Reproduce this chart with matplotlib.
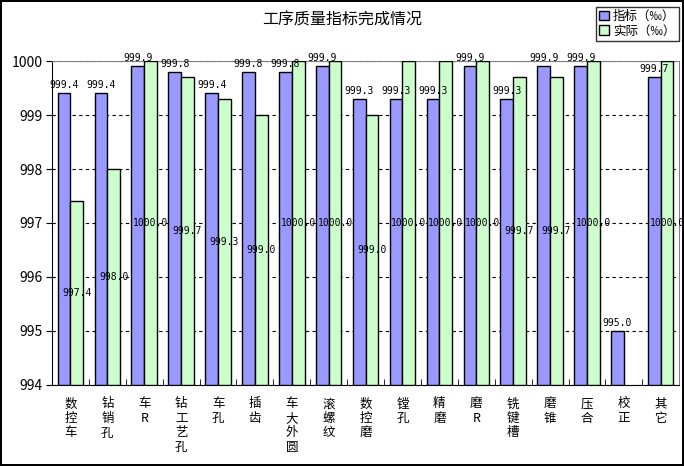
import numpy as np
import matplotlib
matplotlib.use('Agg')
from matplotlib import pyplot as plt
from matplotlib.patches import Patch

plt.rcParams['font.family'] = ['Noto Sans CJK SC', 'DejaVu Sans']

CATEGORIES = ['数控车', '钻销孔', '车R', '钻工艺孔', '车孔', '插齿', '车大外圆', '滚螺纹',
              '数控磨', '镗孔', '精磨', '磨R', '铣键槽', '磨锥', '压合', '校正', '其它']
TARGET = [999.4, 999.4, 999.9, 999.8, 999.4, 999.8, 999.8, 999.9,
          999.3, 999.3, 999.3, 999.9, 999.3, 999.9, 999.9, 995.0, 999.7]
ACTUAL = [997.4, 998.0, 1000.0, 999.7, 999.3, 999.0, 1000.0, 1000.0,
          999.0, 1000.0, 1000.0, 1000.0, 999.7, 999.7, 1000.0, np.nan, 1000.0]
Y_MIN, Y_MAX = 994, 1000

BLUE = '#9999ff'
GREEN = '#ccffcc'

fig = plt.figure(figsize=(6.84, 4.66), dpi=100, linewidth=1.5, edgecolor='black')
ax = fig.add_axes([0.076, 0.174, 0.917, 0.695])

x = np.arange(len(CATEGORIES))
w = 0.345

ax.bar(x - w / 2, np.array(TARGET) - Y_MIN, w, bottom=Y_MIN,
       color=BLUE, edgecolor='black', linewidth=1, zorder=3)
ax.bar(x + w / 2, np.array(ACTUAL) - Y_MIN, w, bottom=Y_MIN,
       color=GREEN, edgecolor='black', linewidth=1, zorder=3)

# labels: target above bar, actual in the middle of bar
for xi, v in zip(x, TARGET):
    ax.text(xi - w / 2, v + 0.06, f'{v:.1f}', ha='center', va='bottom',
            fontsize=7, family='DejaVu Sans Mono', clip_on=False, zorder=5)
for xi, v in zip(x, ACTUAL):
    if np.isnan(v):
        continue
    ax.text(xi + w / 2, (v + Y_MIN) / 2, f'{v:.1f}', ha='center', va='center',
            fontsize=7, family='DejaVu Sans Mono', zorder=5)

ax.set_ylim(Y_MIN, Y_MAX)
ax.set_xlim(-0.5, len(CATEGORIES) - 0.5)
ax.set_yticks(range(Y_MIN, Y_MAX + 1))
ax.tick_params(axis='y', labelsize=10, length=4, direction='out', pad=3)
ax.yaxis.grid(True, linestyle=(0, (3, 3)), color='black', linewidth=0.8, zorder=0)

ax.set_xticks(x)
ax.set_xticklabels(['\n'.join(c) for c in CATEGORIES], fontsize=9, linespacing=1.15, va='top')
ax.tick_params(axis='x', length=0, pad=9)
ax.set_xticks(np.arange(-0.5, len(CATEGORIES), 1), minor=True)
ax.tick_params(axis='x', which='minor', length=4, direction='in')

for side in ['top', 'right']:
    ax.spines[side].set_color('#808080')
for side in ['left', 'bottom']:
    ax.spines[side].set_color('black')

fig.suptitle('工序质量指标完成情况', x=0.5, y=0.975, fontsize=11.5)

handles = [Patch(facecolor=BLUE, edgecolor='black'), Patch(facecolor=GREEN, edgecolor='black')]
fig.legend(handles, ['指标（‰）', '实际（‰）'], loc='upper right',
           bbox_to_anchor=(0.992, 0.986), fontsize=9, frameon=True, fancybox=False,
           edgecolor='black', handlelength=0.8, handleheight=0.8, handletextpad=0.3,
           borderpad=0.25, labelspacing=0.15, borderaxespad=0)

fig.savefig('out.png', dpi=100, edgecolor=fig.get_edgecolor())
